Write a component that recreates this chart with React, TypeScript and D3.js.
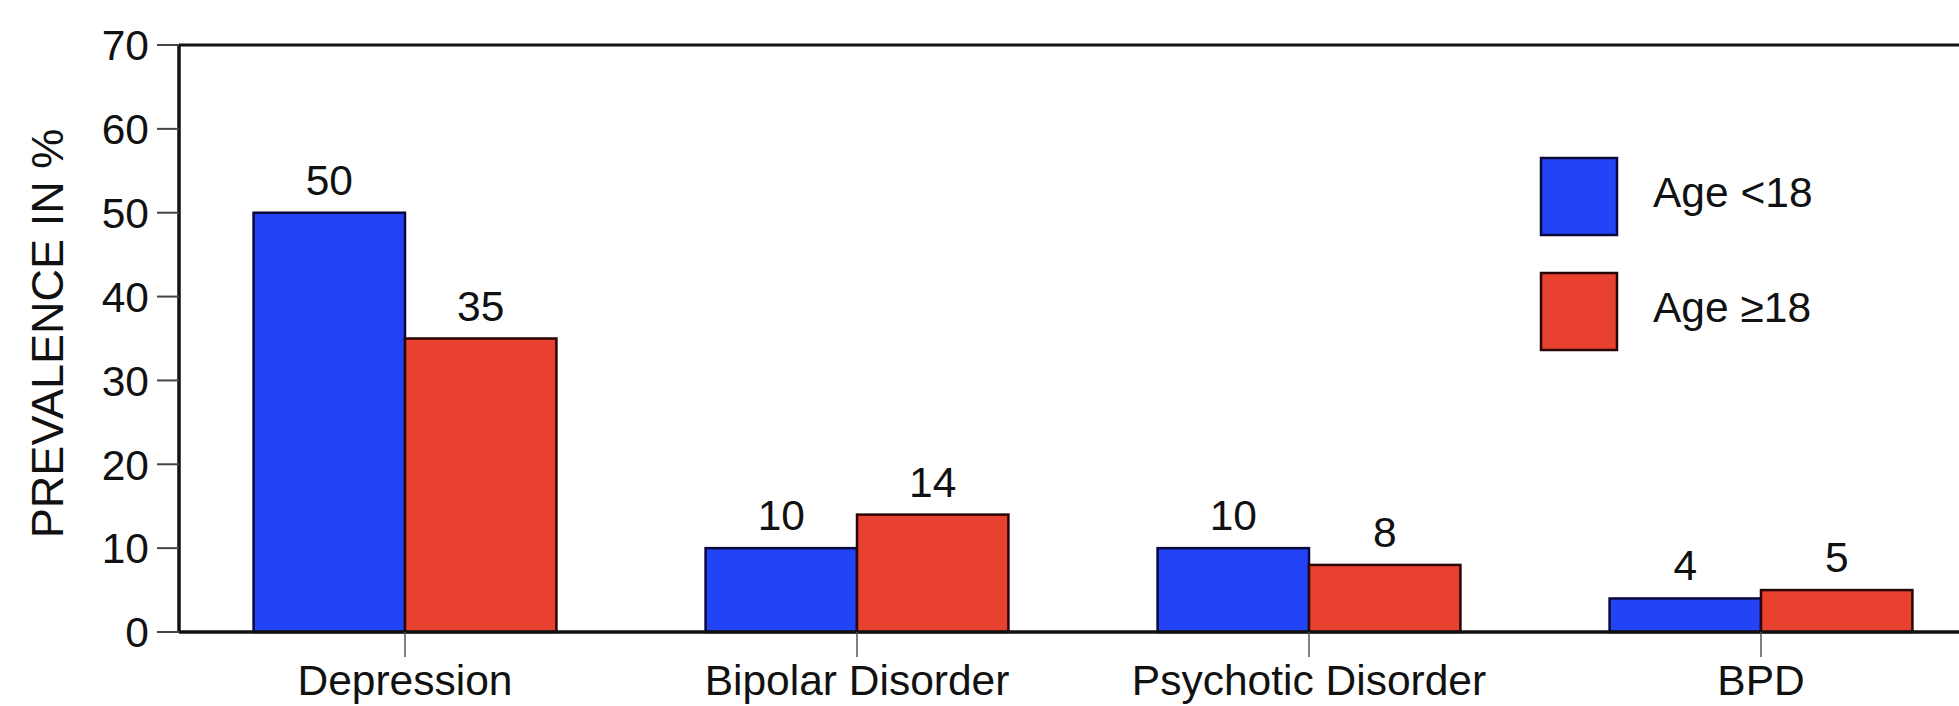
import React from "react";
import * as d3 from "d3";

const categories = ["Depression", "Bipolar Disorder", "Psychotic Disorder", "BPD"];
const seriesNames = ["Age <18", "Age \u226518"];
const under18 = [50, 10, 10, 4];
const over18 = [35, 14, 8, 5];
const yTicks = [0, 10, 20, 30, 40, 50, 60, 70];
const colors = ["#2343f7", "#e8412f"];
const strokes = ["#0a0a3a", "#2a0505"];

const W = 1959;
const H = 706;
const FONT = "'Liberation Sans', Arial, Helvetica, sans-serif";

export default function App() {
  const left = 179;
  const top = 45;
  const bottom = 632;
  const y = d3.scaleLinear().domain([0, 70]).range([bottom, top]);
  const x = d3
    .scaleBand<string>()
    .domain(categories)
    .range([left, left + 1808])
    .paddingInner(0.33)
    .paddingOuter(0.165);
  const x1 = d3.scaleBand<number>().domain([0, 1]).range([0, x.bandwidth()]);
  const series = [under18, over18];
  const fs = 42.5;

  return (
    <svg
      width={W}
      height={H}
      style={{ position: "absolute", left: 0, top: 0, background: "#fff" }}
      fontFamily={FONT}
    >
      <rect x={0} y={0} width={W} height={H} fill="#fff" />
      {/* bars */}
      {categories.map((c, i) =>
        series.map((s, k) => (
          <rect
            key={c + k}
            x={(x(c) as number) + (x1(k) as number)}
            y={y(s[i])}
            width={x1.bandwidth()}
            height={y(0) - y(s[i])}
            fill={colors[k]}
            stroke={strokes[k]}
            strokeWidth={2.5}
          />
        ))
      )}
      {/* value labels */}
      {categories.map((c, i) =>
        series.map((s, k) => (
          <text
            key={"l" + c + k}
            x={(x(c) as number) + (x1(k) as number) + x1.bandwidth() / 2}
            y={y(s[i]) - 18}
            textAnchor="middle"
            fontSize={fs}
            fill="#111"
          >
            {s[i]}
          </text>
        ))
      )}
      {/* frame: top line and left axis, bottom axis */}
      <line x1={left} x2={W} y1={top} y2={top} stroke="#111" strokeWidth={3} />
      <line x1={left} x2={left} y1={top} y2={bottom} stroke="#111" strokeWidth={3.5} />
      <line x1={left} x2={W} y1={bottom} y2={bottom} stroke="#111" strokeWidth={3.5} />
      {/* y ticks */}
      {yTicks.map((t) => (
        <g key={"t" + t}>
          <line x1={157} x2={left} y1={y(t)} y2={y(t)} stroke="#444" strokeWidth={2} />
          <text
            x={149}
            y={y(t)}
            dy="0.36em"
            textAnchor="end"
            fontSize={fs}
            fill="#111"
          >
            {t}
          </text>
        </g>
      ))}
      {/* x ticks and labels */}
      {categories.map((c) => {
        const cx = (x(c) as number) + x.bandwidth() / 2;
        return (
          <g key={"x" + c}>
            <line x1={cx} x2={cx} y1={bottom} y2={657} stroke="#555" strokeWidth={1.5} />
            <text x={cx} y={695} textAnchor="middle" fontSize={fs} fill="#111">
              {c}
            </text>
          </g>
        );
      })}
      {/* y axis title */}
      <text
        transform={`translate(63, ${(top + bottom) / 2 - 5}) rotate(-90)`}
        textAnchor="middle"
        fontSize={45}
        fill="#111"
      >
        PREVALENCE IN %
      </text>
      {/* legend */}
      {seriesNames.map((n, k) => (
        <g key={"lg" + n} transform={`translate(1541, ${158 + k * 115})`}>
          <rect
            x={0}
            y={0}
            width={76}
            height={77}
            fill={colors[k]}
            stroke={strokes[k]}
            strokeWidth={2.5}
          />
          <text x={112} y={49} fontSize={fs} fill="#111">
            {n}
          </text>
        </g>
      ))}
    </svg>
  );
}
